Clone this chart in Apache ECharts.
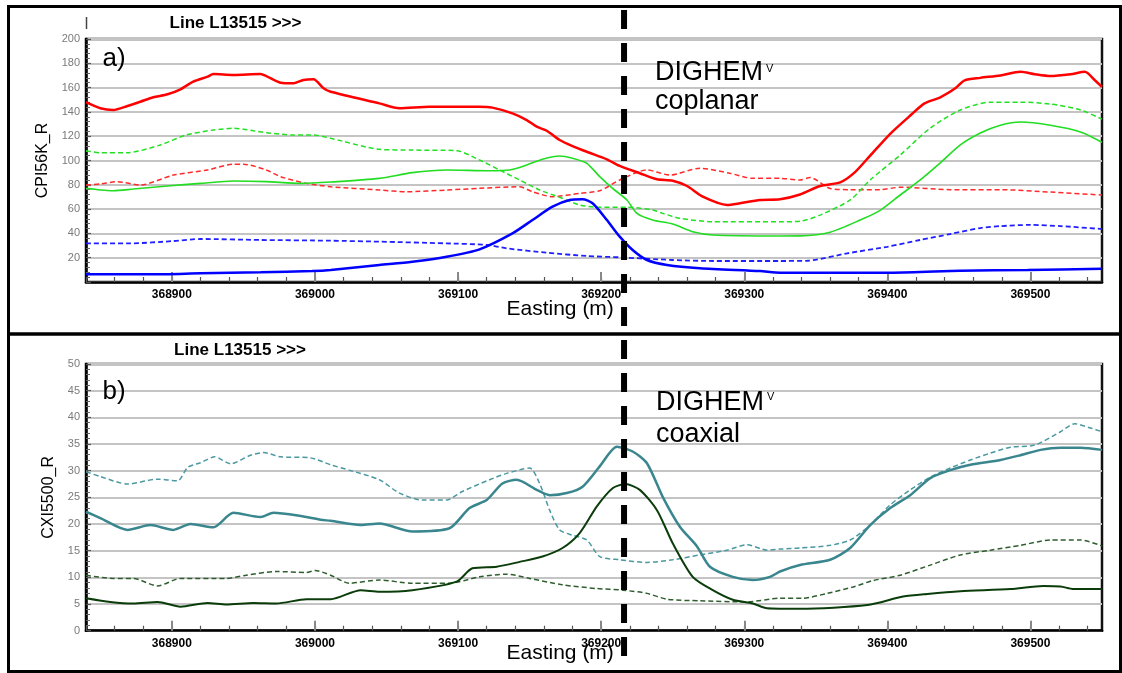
<!DOCTYPE html>
<html>
<head>
<meta charset="utf-8">
<script src="https://cdn.jsdelivr.net/npm/echarts@6/dist/echarts.min.js"></script>
<style>
  html, body { margin: 0; padding: 0; background: #fff; }
  #chart { width: 1122px; height: 673px; }
</style>
</head>
<body>
<div id="chart"></div>
<script>
// Easting range shared by both profiles (m)
const EAST_MIN = 368840;
const EAST_MAX = 369550;
const eastingLabels = [368900, 369000, 369100, 369200, 369300, 369400, 369500];
const anomalyEasting = 369216;   // position of the interpreted conductor (dashed marker)

// Panel a) DIGHEM coplanar responses, [easting, ppm]
const cpRedSolid = [
  [368840,148],[368850,143],[368859,141.6],[368869,144.9],[368878,148.4],[368887,152],[368897,154.5],
  [368906,158.6],[368915,164.9],[368925,169],[368929,171.2],[368943,170.4],[368962,171.2],[368966,169.5],
  [368976,164],[368985,163.5],[368992,166.3],[368999,166.8],[369006,159.4],[369011,156.6],[369045,147],
  [369059,143],[369080,144.3],[369115,144.3],[369124,143.5],[369138,138.8],[369148,133.3],[369155,127.8],
  [369162,124.5],[369171,116.9],[369180,111.9],[369190,107.2],[369204,101],[369213,95.5],[369227,89.5],
  [369239,84.5],[369250,83.4],[369260,79],[369271,70.2],[369288,63.4],[369297,64.8],[369311,67.5],
  [369325,68.1],[369339,72],[369353,79],[369367,82],[369377,90],[369388,104],[369402,122],[369416,137],
  [369426,147],[369437,152],[369447,159],[369454,166],[369465,168],[369479,170],[369493,173],[369503,171],
  [369514,169.5],[369528,171],[369538,173],[369545,166],[369550,160.5]
];
const cpRedDash = [
  [368840,79.8],[368850,80.7],[368862,82.6],[368878,79.8],[368901,88],[368925,92.2],[368943,96.9],
  [368950,96.9],[368966,92.2],[368976,86.7],[368994,81.2],[369011,78.4],[369045,75.7],[369064,74.3],
  [369092,75.7],[369115,77.1],[369143,78.4],[369152,74.3],[369166,70.2],[369185,73],[369199,75.1],
  [369213,84],[369232,92.2],[369248,88],[369269,93.6],[369290,89.5],[369306,85.3],[369325,85.3],
  [369339,84],[369346,86],[369360,77],[369374,76],[369395,76],[369409,78],[369444,76],[369479,76],
  [369514,74],[369550,71.6]
];
const cpGreenDash = [
  [368840,108],[368850,106.4],[368869,106.4],[368892,112.8],[368910,121],[368929,125.1],[368943,126.5],
  [368957,124.5],[368966,122.9],[368985,121],[368999,121],[369011,118.3],[369045,109.2],[369068,108.6],
  [369099,108.1],[369115,100.4],[369129,92.2],[369143,84],[369157,75.7],[369171,69.7],[369185,63.4],
  [369199,61.5],[369218,61.5],[369236,59.3],[369243,56.5],[369255,52.4],[369278,49.6],[369325,49.6],
  [369339,50],[369353,55],[369374,67.5],[369388,84],[369409,104.5],[369430,126.7],[369451,141.6],
  [369472,148],[369493,148],[369514,146.5],[369535,141.6],[369550,134]
];
const cpGreenSolid = [
  [368840,77.1],[368850,75.7],[368859,75.1],[368873,76.5],[368897,79],[368920,81.2],[368943,83.1],
  [368966,82.6],[368990,81.2],[369011,82.3],[369045,85.3],[369068,90],[369092,92.2],[369122,91.6],
  [369136,92.2],[369148,96.3],[369159,101],[369171,103.7],[369180,101.8],[369190,97.7],[369199,86.7],
  [369208,77.1],[369218,67.5],[369225,56.5],[369236,51],[369250,47.7],[369264,41.4],[369278,38.7],
  [369325,37.9],[369339,38],[369360,41],[369381,51],[369395,59],[369409,71.6],[369423,84],[369437,98],
  [369451,112.8],[369465,122.6],[369479,129],[369493,131.7],[369514,129],[369535,123.5],[369550,115]
];
const cpBlueDash = [
  [368840,31.8],[368871,31.8],[368901,33.7],[368920,35.4],[368962,34.6],[369011,34],[369045,33.2],
  [369092,31.8],[369120,30.5],[369134,27.7],[369162,24.1],[369190,21.4],[369213,20.3],[369250,18.1],
  [369278,17.3],[369325,17.3],[369344,17.5],[369372,23.6],[369400,29],[369423,34.6],[369444,39.5],
  [369465,44.4],[369479,46],[369500,47],[369521,46],[369550,43.6]
];
const cpBlueSolid = [
  [368840,6.3],[368885,6.3],[368920,7.1],[368962,8],[368998,9],[369011,9.9],[369045,14],[369068,16.7],
  [369092,20.8],[369115,26.9],[369138,40],[369152,51],[369166,62],[369178,67.5],[369187,68.1],
  [369194,64.8],[369204,51],[369213,37.3],[369222,26.3],[369232,18.1],[369246,14],[369269,11.3],
  [369311,9],[369325,7.7],[369358,7.7],[369404,7.7],[369451,9.3],[369498,9.9],[369550,10.9]
];

// Panel b) DIGHEM coaxial responses, [easting, ppm]
const cxTealDash = [
  [368840,29.8],[368850,28.9],[368869,27.5],[368890,28.4],[368904,28.1],[368911,30.6],[368920,31.5],
  [368930,32.6],[368941,31.3],[368955,32.9],[368964,33.4],[368976,32.6],[368997,32.4],[369011,31.1],
  [369024,30.1],[369045,28.3],[369059,25.8],[369075,24.5],[369092,24.5],[369103,26.1],[369122,28.3],
  [369134,29.5],[369150,30.5],[369157,27.6],[369164,22.6],[369171,18.9],[369180,17.9],[369190,17],
  [369199,13.9],[369213,13.3],[369232,12.8],[369250,13.3],[369269,14.2],[369288,15.1],[369302,16.1],
  [369316,15.1],[369325,15.3],[369339,15.5],[369360,16],[369374,17],[369388,19.8],[369402,23.6],
  [369416,26.4],[369430,28.8],[369444,30.5],[369458,32],[369472,33.3],[369486,34.4],[369503,34.8],
  [369521,37.3],[369531,38.8],[369542,38],[369550,37.3]
];
const cxTealSolid = [
  [368840,22.3],[368850,21.1],[368869,18.9],[368885,19.8],[368901,18.9],[368913,20],[368929,19.4],
  [368943,22.1],[368962,21.3],[368971,22.1],[368990,21.5],[369004,20.8],[369011,20.6],[369032,19.8],
  [369045,20.1],[369068,18.6],[369094,19.2],[369108,23],[369120,24.5],[369131,27.6],[369141,28.3],
  [369155,26.4],[369164,25.4],[369176,25.8],[369187,27],[369199,30.8],[369211,34.5],[369222,33.6],
  [369232,31.4],[369243,25.1],[369255,19.5],[369267,15.8],[369276,12],[369292,10.1],[369306,9.5],
  [369318,10.1],[369325,11.1],[369339,12.3],[369360,13.3],[369374,15.5],[369388,19.8],[369402,23],
  [369416,25.4],[369430,28.6],[369444,30.1],[369458,31.1],[369479,32],[369493,32.9],[369507,33.9],
  [369521,34.3],[369535,34.3],[369550,33.9]
];
const cxDarkDash = [
  [368840,10.4],[368859,9.8],[368873,9.8],[368890,8.4],[368906,9.8],[368938,9.8],[368952,10.4],
  [368973,11.1],[368994,10.9],[369000,11.3],[369011,10.4],[369024,8.9],[369045,9.5],[369068,8.9],
  [369094,8.9],[369115,10.1],[369134,10.6],[369150,9.8],[369173,8.6],[369197,7.9],[369215,7.6],
  [369232,7],[369246,5.9],[369269,5.6],[369302,5.4],[369325,6.1],[369341,6.1],[369358,7],[369376,8.2],
  [369390,9.4],[369409,10.4],[369430,12.3],[369451,14.2],[369472,15.1],[369493,16],[369514,17],
  [369535,17],[369550,15.9]
];
const cxDarkSolid = [
  [368840,6.1],[368857,5.4],[368873,5.1],[368890,5.4],[368906,4.5],[368925,5.2],[368938,4.9],
  [368957,5.2],[368973,5.1],[368994,5.9],[369011,5.9],[369032,7.6],[369045,7.3],[369068,7.6],
  [369099,9.2],[369110,11.7],[369127,12],[369143,12.9],[369159,13.9],[369173,15.5],[369185,18.3],
  [369197,23.3],[369208,26.7],[369217,27.5],[369227,26.4],[369239,22.6],[369250,16.4],[369264,10.1],
  [369278,7.6],[369292,5.8],[369306,5.1],[369316,4.2],[369339,4.1],[369386,4.8],[369411,6.4],
  [369428,6.9],[369451,7.4],[369486,7.8],[369509,8.4],[369521,8.3],[369530,7.8],[369550,7.8]
];

const FONT = 'Liberation Sans, Arial, sans-serif';

// minor easting ticks every 20 m
const minorEasting = [];
for (let e = 368840; e < EAST_MAX; e += 20) minorEasting.push(e);

function mainX(gridIndex) {
  return {
    type: 'value', gridIndex, min: EAST_MIN, max: EAST_MAX, position: 'bottom',
    axisLine: { show: true, onZero: false, lineStyle: { color: '#000', width: 2.5 } },
    axisTick: { show: true, inside: true, length: 5, customValues: minorEasting,
                lineStyle: { color: '#555', width: 1.2 } },
    axisLabel: { show: true, customValues: eastingLabels, formatter: v => String(v),
                 color: '#000', fontSize: 12, fontWeight: 'bold', fontFamily: FONT, margin: 7 },
    splitLine: { show: false }
  };
}
function majorTickX(gridIndex) {
  return {
    type: 'value', gridIndex, min: EAST_MIN, max: EAST_MAX, position: 'bottom',
    axisLine: { show: false },
    axisTick: { show: true, inside: true, length: 10, customValues: eastingLabels,
                lineStyle: { color: '#888', width: 2 } },
    axisLabel: { show: false },
    splitLine: { show: false }
  };
}
function valueY(gridIndex, max, interval, name, nameGap, hideZero) {
  return {
    type: 'value', gridIndex, min: 0, max, interval, name,
    nameLocation: 'middle', nameGap,
    nameTextStyle: { color: '#000', fontSize: 16, fontFamily: FONT },
    axisLine: { show: true, onZero: false, lineStyle: { color: '#000', width: 2.5 } },
    axisTick: { show: true, inside: true, length: 5, lineStyle: { color: '#555', width: 1.2 } },
    minorTick: { show: true, splitNumber: 5, length: 4, lineStyle: { color: '#666', width: 1 } },
    axisLabel: { color: '#7a7a7a', fontSize: 11, fontFamily: FONT, margin: 6,
                 formatter: v => (hideZero && v === 0) ? '' : String(v) },
    splitLine: { show: true, lineStyle: { color: '#c4c4c4', width: 1.8 } }
  };
}
function line(name, data, xi, yi, color, width, dashed) {
  return {
    name, type: 'line', xAxisIndex: xi, yAxisIndex: yi, data,
    showSymbol: false, smooth: 0.25, silent: true,
    lineStyle: { color, width, type: dashed ? [5, 3] : 'solid' }
  };
}

const chart = echarts.init(document.getElementById('chart'), null, { renderer: 'canvas' });

chart.setOption({
  animation: false,
  backgroundColor: '#fff',
  grid: [
    { left: 86, top: 39, width: 1016, height: 243, show: true, borderColor: '#111', borderWidth: 2.5 },
    { left: 86, top: 364, width: 1016, height: 266.7, show: true, borderColor: '#111', borderWidth: 2.5 }
  ],
  xAxis: [mainX(0), majorTickX(0), mainX(1), majorTickX(1)],
  yAxis: [
    valueY(0, 200, 20, 'CPI56K_R', 21, true),
    valueY(1, 50, 5, 'CXI5500_R', 15, false)
  ],
  series: [
    line('CPI56K dash', cpRedDash, 0, 0, '#ff2a2a', 1.5, true),
    line('CPQ56K dash', cpGreenDash, 0, 0, '#22e022', 1.5, true),
    line('CPQ7200', cpGreenSolid, 0, 0, '#22dd22', 1.6, false),
    line('CPQ900 dash', cpBlueDash, 0, 0, '#2020ff', 1.8, true),
    line('CPI900', cpBlueSolid, 0, 0, '#0000ff', 2.5, false),
    line('CPI7200', cpRedSolid, 0, 0, '#ff0000', 2.5, false),
    line('CXQ5500 dash', cxTealDash, 2, 1, '#4a98a0', 1.5, true),
    line('CXI5500', cxTealSolid, 2, 1, '#3a868e', 2.5, false),
    line('CXQ1000 dash', cxDarkDash, 2, 1, '#2e5e2e', 1.5, true),
    line('CXI1000', cxDarkSolid, 2, 1, '#0b3d0b', 2, false)
  ]
});

// dashed conductor marker across both panels, placed through the easting scale
const markX = chart.convertToPixel({ xAxisIndex: 0 }, anomalyEasting);

const txt = (text, x, y, size, opts) => ({
  type: 'text', x, y, z: 50,
  style: Object.assign({ text, fill: '#000', fontSize: size, fontFamily: FONT, fontWeight: 'normal',
                         align: 'left', verticalAlign: 'middle' }, opts || {})
});

chart.setOption({
  graphic: { elements: [
    // outer frames of the two panels
    { type: 'line', z: 60, shape: { x1: 7, y1: 6.5, x2: 1122, y2: 6.5 }, style: { stroke: '#000', lineWidth: 3 } },
    { type: 'line', z: 60, shape: { x1: 8.5, y1: 5, x2: 8.5, y2: 673 }, style: { stroke: '#000', lineWidth: 3 } },
    { type: 'line', z: 60, shape: { x1: 7, y1: 334, x2: 1122, y2: 334 }, style: { stroke: '#000', lineWidth: 3.5 } },
    { type: 'line', z: 60, shape: { x1: 7, y1: 671.5, x2: 1122, y2: 671.5 }, style: { stroke: '#000', lineWidth: 3 } },
    { type: 'line', z: 60, shape: { x1: 1120.5, y1: 5, x2: 1120.5, y2: 673 }, style: { stroke: '#000', lineWidth: 3 } },
    // small start marker above panel a)
    { type: 'line', z: 40, shape: { x1: 86.5, y1: 17, x2: 86.5, y2: 29 }, style: { stroke: '#444', lineWidth: 1.5 } },
    // panel headers
    txt('Line L13515 >>>', 235.5, 23.5, 17, { align: 'center', fontWeight: 'bold' }),
    txt('Line L13515 >>>', 240, 350, 17, { align: 'center', fontWeight: 'bold' }),
    txt('a)', 102.5, 59, 26),
    txt('b)', 102.5, 392, 26),
    // system annotations
    txt('DIGHEM', 655, 72.5, 27),
    txt('V', 766, 69, 11),
    txt('coplanar', 655, 102, 27),
    txt('DIGHEM', 656, 402.5, 27),
    txt('V', 767, 397, 11),
    txt('coaxial', 656, 434.5, 27),
    // axis titles
    txt('Easting (m)', 506.5, 309, 21),
    txt('Easting (m)', 506.5, 653, 21),
    // conductor marker
    { type: 'line', z: 100, shape: { x1: markX, y1: 10, x2: markX, y2: 673 },
      style: { stroke: '#000', lineWidth: 6, lineDash: [19, 14] } }
  ] }
});
</script>
</body>
</html>
